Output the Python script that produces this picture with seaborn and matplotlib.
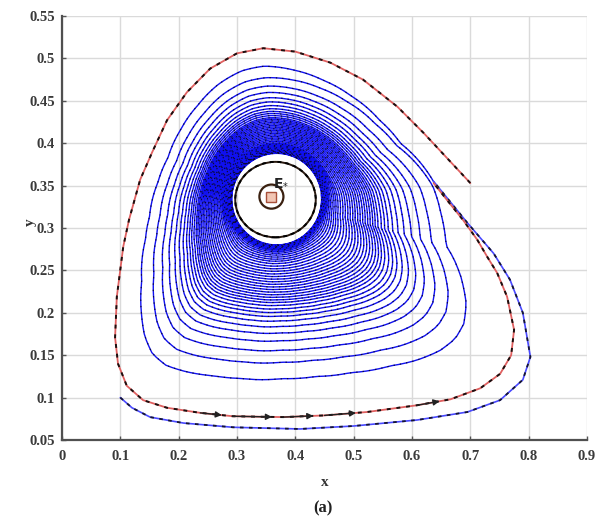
import numpy as np
import pandas as pd
import seaborn as sns
import matplotlib.pyplot as plt
from matplotlib.patches import Ellipse

# ---- data ----
# outermost (red) trajectory, starts at (0.70, 0.353) and turns counter-clockwise
red_x = [0.700, 0.620, 0.575, 0.516, 0.460, 0.400, 0.345, 0.300, 0.254, 0.214, 0.180,
         0.155, 0.134, 0.115, 0.105, 0.094, 0.091, 0.096, 0.111, 0.139, 0.180, 0.237,
         0.293, 0.379, 0.450, 0.523, 0.609, 0.666, 0.717, 0.751, 0.770, 0.775, 0.763,
         0.746, 0.729, 0.712, 0.688, 0.660, 0.637]
red_y = [0.353, 0.412, 0.443, 0.475, 0.495, 0.508, 0.512, 0.506, 0.488, 0.460, 0.427,
         0.390, 0.357, 0.310, 0.278, 0.219, 0.171, 0.140, 0.114, 0.097, 0.088, 0.082,
         0.078, 0.077, 0.079, 0.083, 0.091, 0.098, 0.111, 0.128, 0.150, 0.180, 0.219,
         0.247, 0.266, 0.286, 0.309, 0.333, 0.353]
# extra point that closes the red loop smoothly on its right side
close_x, close_y = 0.718, 0.312

# second (blue) trajectory, starts at (0.1, 0.1)
blue_x = [0.100, 0.120, 0.151, 0.208, 0.293, 0.408, 0.500, 0.609, 0.695, 0.751, 0.790,
          0.803, 0.790, 0.768, 0.740, 0.695, 0.637]
blue_y = [0.100, 0.088, 0.077, 0.070, 0.065, 0.063, 0.0665, 0.0736, 0.083, 0.097, 0.121,
          0.148, 0.200, 0.239, 0.270, 0.306, 0.355]

# equilibrium E*, the limit cycle and the empty gap around it
eq_x, eq_y = 0.359, 0.337
eq_rx, eq_ry = 0.0206, 0.0142
cyc_x, cyc_y = 0.366, 0.3335
cyc_rx, cyc_ry = 0.069, 0.0445
gap_x, gap_y = 0.368, 0.334
gap_rx, gap_ry = 0.077, 0.054

# position of the spiral between the gap edge (0) and the red loop (1):
# first at the point where both trajectories merge, then once per turn
merge_frac = 0.77
turn_frac = [0.83, 0.72, 0.64, 0.58, 0.53, 0.49, 0.455, 0.425, 0.40, 0.38, 0.36, 0.34,
             0.325, 0.31, 0.295, 0.28, 0.265, 0.25, 0.235, 0.22, 0.205, 0.19, 0.175,
             0.16, 0.145, 0.13, 0.115, 0.10, 0.088, 0.076, 0.064, 0.053, 0.043, 0.034,
             0.026, 0.019, 0.013, 0.008, 0.004, 0.0]

x_ticks = [0, 0.1, 0.2, 0.3, 0.4, 0.5, 0.6, 0.7, 0.8, 0.9]
x_labels = ["0", "0.1", "0.2", "0.3", "0.4", "0.5", "0.6", "0.7", "0.8", "0.9"]
y_ticks = [0.05, 0.1, 0.15, 0.2, 0.25, 0.3, 0.35, 0.4, 0.45, 0.5, 0.55]
y_labels = ["0.05", "0.1", "0.15", "0.2", "0.25", "0.3", "0.35", "0.4", "0.45", "0.5", "0.55"]

# ---- build the inner spiral from the red loop shape ----
sx, sy = 583.0, 848.0   # pixel scale of the axes, keeps the spiral round on screen
ref_n = 35
X = (np.array(red_x[:ref_n] + [close_x]) - gap_x) * sx
Y = (np.array(red_y[:ref_n] + [close_y]) - gap_y) * sy
ref_t = np.arctan2(Y, X)
ref_r = np.hypot(X, Y)
order = np.argsort(ref_t)
ref_t, ref_r = ref_t[order], ref_r[order]

t0 = np.arctan2((red_y[-1] - gap_y) * sy, (red_x[-1] - gap_x) * sx)
phi = np.linspace(0, 2 * np.pi * len(turn_frac), 8000)
theta = t0 + phi
th_w = np.mod(theta + np.pi, 2 * np.pi) - np.pi
r_out = np.interp(th_w, ref_t, ref_r, period=2 * np.pi)
a, b = gap_rx * sx, gap_ry * sy
r_in = a * b / np.sqrt((b * np.cos(theta)) ** 2 + (a * np.sin(theta)) ** 2)
knots = np.r_[0, np.pi / 2 + 2 * np.pi * np.arange(len(turn_frac))]
g = np.interp(phi, knots, [merge_frac] + turn_frac)
r = r_in + g * (r_out - r_in)
spiral = pd.DataFrame({"x": gap_x + r * np.cos(theta) / sx,
                       "y": gap_y + r * np.sin(theta) / sy})

red_df = pd.DataFrame({"x": red_x, "y": red_y})
blue_df = pd.DataFrame({"x": blue_x, "y": blue_y})

# ---- plot ----
sns.set_theme(style="whitegrid")
plt.rcParams["font.family"] = ["Liberation Serif", "DejaVu Serif"]
fig = plt.figure(figsize=(6, 5.21), dpi=100)
ax = fig.add_axes([62 / 600, 1 - 440 / 521, 525 / 600, 424 / 521])
ax.set_facecolor("white")
ax.grid(True, color="#dadada", lw=1.0)

sns.lineplot(data=spiral, x="x", y="y", sort=False, estimator=None, color="#1010f0",
             lw=1.0, ax=ax)
sns.lineplot(data=spiral, x="x", y="y", sort=False, estimator=None, color="#0a0a30",
             lw=0.8, linestyle=(0, (1.2, 4.5)), ax=ax)
sns.lineplot(data=blue_df, x="x", y="y", sort=False, estimator=None, color="#4848ff",
             lw=1.2, ax=ax)
sns.lineplot(data=blue_df, x="x", y="y", sort=False, estimator=None, color="#151530",
             lw=1.3, linestyle=(0, (2, 3)), ax=ax)
sns.lineplot(data=red_df, x="x", y="y", sort=False, estimator=None, color="#e06060",
             lw=1.3, ax=ax)
sns.lineplot(data=red_df, x="x", y="y", sort=False, estimator=None, color="#1a0f0f",
             lw=1.4, linestyle=(0, (2, 3)), ax=ax)

# direction arrows along the bottom of the red trajectory
for i in [21, 22, 23, 24, 26]:
    ax.annotate("", xy=(red_x[i + 1], red_y[i + 1]), xytext=(red_x[i], red_y[i]),
                arrowprops=dict(arrowstyle="-|>", color="#222222", lw=1.0,
                                mutation_scale=9, shrinkA=0, shrinkB=8))

# limit cycle and equilibrium
ax.add_patch(Ellipse((cyc_x, cyc_y), 2 * cyc_rx, 2 * cyc_ry, fill=False,
                     ec="#2a1a10", lw=1.4))
ax.add_patch(Ellipse((cyc_x, cyc_y), 2 * cyc_rx, 2 * cyc_ry, fill=False,
                     ec="black", lw=1.4, ls=(0, (2, 2))))
ax.add_patch(Ellipse((eq_x, eq_y), 2 * eq_rx, 2 * eq_ry, fill=False,
                     ec="#3a2010", lw=1.6))
ax.plot(eq_x, eq_y, marker="s", ms=7, mfc="#f2c6b4", mec="#a8503a", mew=1.0)
ax.text(eq_x + 0.002, eq_y + 0.017, r"$\mathbf{E}_{*}$", fontsize=10, color="#222222",
        ha="left", va="center")

ax.set_xlim(0, 0.9)
ax.set_ylim(0.05, 0.55)
ax.set_xticks(x_ticks)
ax.set_xticklabels(x_labels)
ax.set_yticks(y_ticks)
ax.set_yticklabels(y_labels)
ax.set_xlabel("")
ax.set_ylabel("")
ax.tick_params(direction="in", length=3, width=1, colors="#555555", labelcolor="#3a3a3a",
               labelsize=10.5, bottom=True, left=True)
ax.tick_params(axis="x", pad=7)
ax.tick_params(axis="y", pad=5)
for lab in ax.get_xticklabels() + ax.get_yticklabels():
    lab.set_fontweight("bold")
for s in ["top", "right"]:
    ax.spines[s].set_visible(False)
for s in ["left", "bottom"]:
    ax.spines[s].set_color("#505050")
    ax.spines[s].set_linewidth(1.6)

fig.text(325 / 600, 1 - 482 / 521, "x", ha="center", va="center", fontsize=11,
         fontweight="bold", color="#333333")
fig.text(30 / 600, 1 - 222 / 521, "y", ha="center", va="center", fontsize=11,
         fontweight="bold", color="#333333", rotation=90)
fig.text(323 / 600, 1 - 508 / 521, "(a)", ha="center", va="center", fontsize=12,
         fontweight="bold", color="#222222")

fig.savefig("out.png", dpi=100)
